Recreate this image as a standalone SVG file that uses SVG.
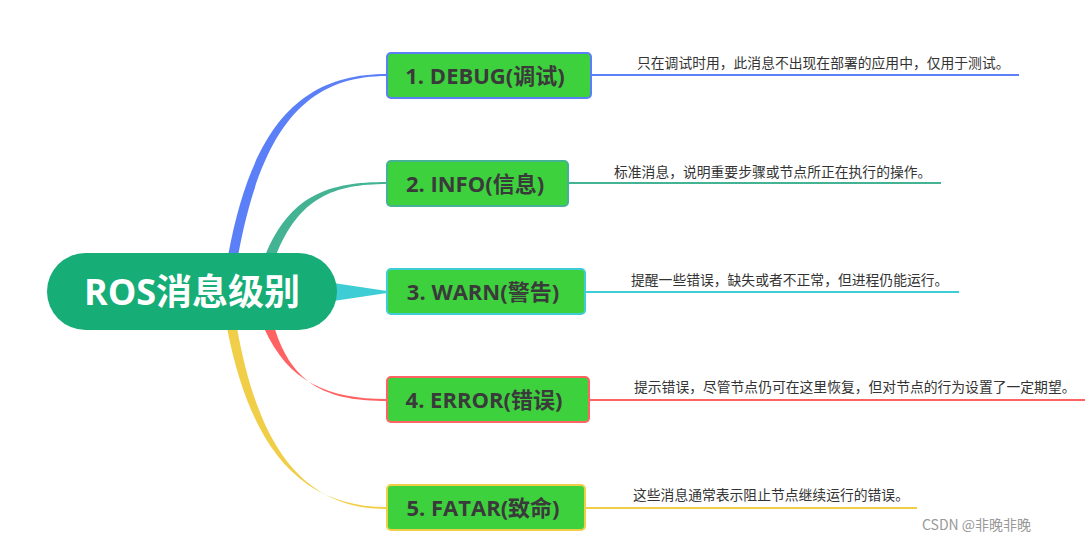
<svg xmlns="http://www.w3.org/2000/svg" width="1087" height="543" viewBox="0 0 1087 543">
<style>
.node rect{fill:#3ED13E;stroke-width:2}
.lbl{font-family:"Open Sans","Noto Sans CJK SC",sans-serif;font-weight:bold;font-size:22px;fill:#3A3A3A;text-anchor:middle}
.desc{font-family:"Noto Sans CJK SC","Noto Sans",sans-serif;font-size:13.8px;fill:#333}
.ul{stroke-width:2;fill:none}
</style>
<rect width="1087" height="543" fill="#fff"/>
<g id="connectors">
<path d="M228,256 C253,120 305,74 387,74 L387,76 C308,76 262,125 238,256 Z" fill="#5B7FF7"/>
<path d="M265,256 C290,195 328,182 387,182 L387,184 C333,184 298,198 275,258 Z" fill="#44B394"/>
<path d="M320,281 L387,291 L387,293 L320,303 Z" fill="#3ECDD4"/>
<path d="M264,328 C288,382 328,399 387,399 L387,401 C330,401 292,387 274,326 Z" fill="#FF6262"/>
<path d="M227,328 C250,445 298,507 387,507 L387,509 C302,509 258,445 237,328 Z" fill="#F0CE48"/>
<line class="ul" x1="591" y1="75" x2="1019" y2="75" stroke="#5B7FF7"/>
<line class="ul" x1="568" y1="183" x2="941" y2="183" stroke="#44B394"/>
<line class="ul" x1="585" y1="292" x2="959" y2="292" stroke="#3ECDD4"/>
<line class="ul" x1="589" y1="400" x2="1085" y2="400" stroke="#FF6262"/>
<line class="ul" x1="585" y1="508" x2="917" y2="508" stroke="#F0CE48"/>
</g>
<g id="root">
<rect x="47" y="253" width="290" height="77" rx="38.5" fill="#17AD76"/>
<text x="192" y="305" font-family="'Open Sans','Noto Sans CJK SC',sans-serif" font-weight="bold" font-size="36" fill="#fff" text-anchor="middle">ROS消息级别</text>
</g>
<g id="n1" class="node">
<rect x="387" y="53" width="204" height="45" rx="4" stroke="#5B7FF7"/>
<text class="lbl" x="485" y="84">1. DEBUG(调试)</text>
<text class="desc" x="637" y="68">只在调试时用，此消息不出现在部署的应用中，仅用于测试。</text>
</g>
<g id="n2" class="node">
<rect x="387" y="161" width="181" height="45" rx="4" stroke="#44B394"/>
<text class="lbl" x="475" y="192">2. INFO(信息)</text>
<text class="desc" x="614" y="177">标准消息，说明重要步骤或节点所正在执行的操作。</text>
</g>
<g id="n3" class="node">
<rect x="387" y="269" width="198" height="45" rx="4" stroke="#3ECDD4"/>
<text class="lbl" x="483" y="300">3. WARN(警告)</text>
<text class="desc" x="631" y="285">提醒一些错误，缺失或者不正常，但进程仍能运行。</text>
</g>
<g id="n4" class="node">
<rect x="387" y="377" width="202" height="45" rx="4" stroke="#FF6262"/>
<text class="lbl" x="484" y="408">4. ERROR(错误)</text>
<text class="desc" x="634" y="392">提示错误，尽管节点仍可在这里恢复，但对节点的行为设置了一定期望。</text>
</g>
<g id="n5" class="node">
<rect x="387" y="485" width="198" height="45" rx="4" stroke="#F0CE48"/>
<text class="lbl" x="483" y="516">5. FATAR(致命)</text>
<text class="desc" x="633" y="500">这些消息通常表示阻止节点继续运行的错误。</text>
</g>
<text x="922" y="530" font-family="'Noto Sans CJK SC','Noto Sans',sans-serif" font-size="14" fill="#999">CSDN @非晚非晚</text>
</svg>
